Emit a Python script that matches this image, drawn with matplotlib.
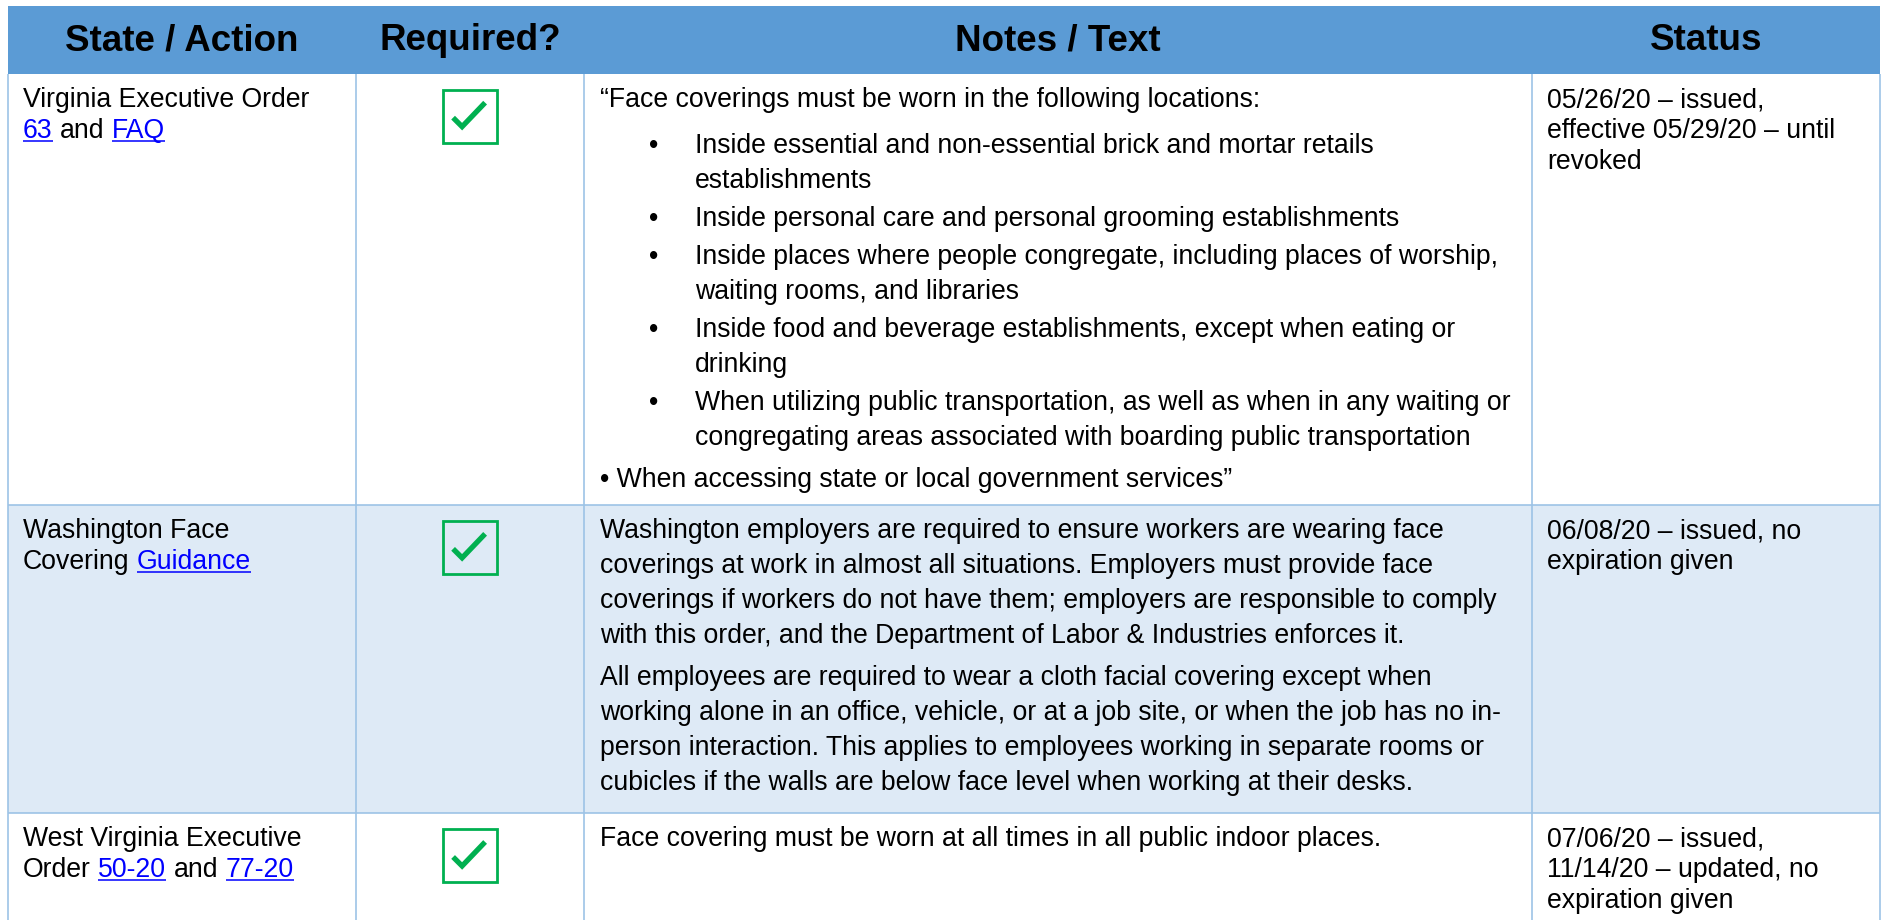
import matplotlib
matplotlib.use('Agg')
import matplotlib.pyplot as plt
from matplotlib.patches import Rectangle
from matplotlib.font_manager import FontProperties

# ── Table content ────────────────────────────────────────────────────────────
headers = ['State / Action', 'Required?', 'Notes / Text', 'Status']

# each state cell: lines made of (text, is_link) segments
state_cells = [
    [[('Virginia Executive Order', False)],
     [('63', True), (' and ', False), ('FAQ', True)]],
    [[('Washington Face', False)],
     [('Covering ', False), ('Guidance', True)]],
    [[('West Virginia Executive', False)],
     [('Order ', False), ('50-20', True), (' and ', False), ('77-20', True)]],
]

required = [True, True, True]

# each notes cell: paragraphs as (kind, lines); 'p' = plain, 'b' = bulleted
notes_cells = [
    [('p', ['\u201cFace coverings must be worn in the following locations:']),
     ('b', ['Inside essential and non-essential brick and mortar retails',
            'establishments']),
     ('b', ['Inside personal care and personal grooming establishments']),
     ('b', ['Inside places where people congregate, including places of worship,',
            'waiting rooms, and libraries']),
     ('b', ['Inside food and beverage establishments, except when eating or',
            'drinking']),
     ('b', ['When utilizing public transportation, as well as when in any waiting or',
            'congregating areas associated with boarding public transportation']),
     ('p', ['\u2022 When accessing state or local government services\u201d'])],
    [('p', ['Washington employers are required to ensure workers are wearing face',
            'coverings at work in almost all situations. Employers must provide face',
            'coverings if workers do not have them; employers are responsible to comply',
            'with this order, and the Department of Labor & Industries enforces it.']),
     ('p', ['All employees are required to wear a cloth facial covering except when',
            'working alone in an office, vehicle, or at a job site, or when the job has no in-',
            'person interaction. This applies to employees working in separate rooms or',
            'cubicles if the walls are below face level when working at their desks.'])],
    [('p', ['Face covering must be worn at all times in all public indoor places.'])],
]

status_cells = [
    ['05/26/20 \u2013 issued,', 'effective 05/29/20 \u2013 until', 'revoked'],
    ['06/08/20 \u2013 issued, no', 'expiration given'],
    ['07/06/20 \u2013 issued,', '11/14/20 \u2013 updated, no', 'expiration given'],
]

# ── Layout (pixels) ──────────────────────────────────────────────────────────
W, H = 1889, 920
col_x = [8, 356, 584, 1532, 1880]
head_top, head_bot = 6, 74
row_y = [74, 505, 813, 930]
HEAD_BLUE = '#5B9BD5'
ROW_ALT = '#DEEAF6'
GRID = '#9DC3E6'
LINK = '#0000FF'
GREEN = '#00B050'

fig = plt.figure(figsize=((W + 0.4) / 100, (H + 0.4) / 100), dpi=100)
fig.patch.set_facecolor('white')
ax = fig.add_axes([0, 0, 1, 1])
ax.set_xlim(0, W); ax.set_ylim(H, 0); ax.axis('off')

fp_head = FontProperties(family='Liberation Sans', weight='bold', size=26.5)
fp_body = FontProperties(family='Liberation Sans', size=19.2)
renderer = fig.canvas.get_renderer()

def text_w(s, fp):
    w, h, d = renderer.get_text_width_height_descent(s, fp, ismath=False)
    return w

def pos(s, fp):
    return text_w(s + 'x', fp) - text_w('x', fp) if s else 0.0

# header
ax.add_patch(Rectangle((col_x[0], head_top), col_x[-1] - col_x[0], head_bot - head_top,
                       facecolor=HEAD_BLUE, edgecolor='none'))
for i, h in enumerate(headers):
    ax.text((col_x[i] + col_x[i + 1]) / 2, 50, h, fontproperties=fp_head,
            ha='center', va='baseline', color='black')

# row backgrounds
for r in range(len(state_cells)):
    if r % 2 == 1:
        ax.add_patch(Rectangle((col_x[0], row_y[r]), col_x[-1] - col_x[0],
                               row_y[r + 1] - row_y[r], facecolor=ROW_ALT, edgecolor='none'))

# grid lines
for x in col_x:
    ax.plot([x, x], [head_bot, H + 5], color=GRID, lw=1.2, solid_capstyle='butt')
for y in row_y[1:-1]:
    ax.plot([col_x[0], col_x[-1]], [y, y], color=GRID, lw=1.2, solid_capstyle='butt')

LINE = 31      # line spacing in state/status columns
NLINE = 35     # line spacing in notes column
FIRST = 33     # first baseline below row top

for r in range(len(state_cells)):
    top = row_y[r]

    # state / action with links
    for li, segs in enumerate(state_cells[r]):
        y = top + FIRST + li * LINE
        prefix = ''
        for s, link in segs:
            lead = len(s) - len(s.lstrip())
            x = col_x[0] + 15 + pos(prefix + s[:lead], fp_body)
            body = s.strip()
            ax.text(x, y, body, fontproperties=fp_body, ha='left', va='baseline',
                    color=LINK if link else 'black')
            if link:
                ax.plot([x, x + text_w(body, fp_body)], [y + 3.5, y + 3.5],
                        color=LINK, lw=1.1, solid_capstyle='butt')
            prefix += s

    # required checkbox
    if required[r]:
        cx = (col_x[1] + col_x[2]) / 2
        bx, by = cx - 27, top + 16
        ax.add_patch(Rectangle((bx, by), 54, 53, facecolor='none',
                               edgecolor=GREEN, lw=2.0))
        ax.plot([bx + 10, bx + 19, bx + 42], [by + 28, by + 37, by + 13],
                color=GREEN, lw=3.8, solid_capstyle='butt', solid_joinstyle='miter')

    # notes / text
    y = top + FIRST
    prev = None
    for kind, lines in notes_cells[r]:
        if prev is not None:
            if kind == 'b' and prev == 'p':
                y += 46
            elif kind == 'b' and prev == 'b':
                y += 38
            else:
                y += 42
        for li, line in enumerate(lines):
            if li > 0:
                y += NLINE
            if kind == 'b':
                if li == 0:
                    ax.text(653, y, '\u2022', fontproperties=fp_body, ha='center',
                            va='baseline', color='black')
                ax.text(col_x[2] + 111, y, line, fontproperties=fp_body,
                        ha='left', va='baseline', color='black')
            else:
                ax.text(col_x[2] + 16, y, line, fontproperties=fp_body,
                        ha='left', va='baseline', color='black')
        prev = kind

    # status
    for li, line in enumerate(status_cells[r]):
        ax.text(col_x[3] + 15, top + FIRST + li * LINE, line, fontproperties=fp_body,
                ha='left', va='baseline', color='black')

fig.savefig('out.png', dpi=100, facecolor='white')
plt.close(fig)
